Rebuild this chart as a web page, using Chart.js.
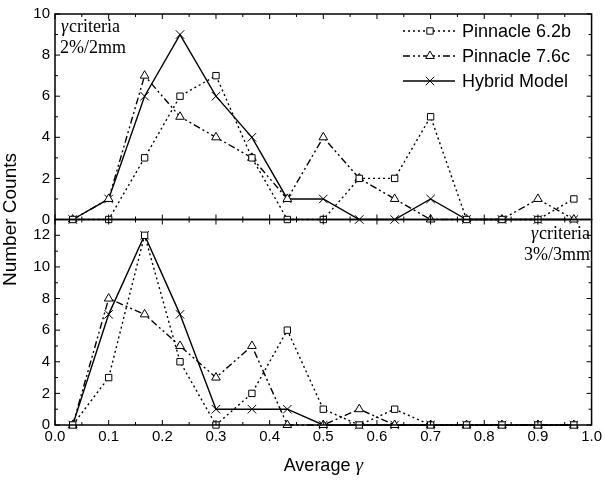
<!DOCTYPE html>
<html>
<head>
<meta charset="utf-8">
<script src="https://cdn.jsdelivr.net/npm/chart.js@4.4.1/dist/chart.umd.min.js"></script>
<style>
  html, body { margin: 0; padding: 0; background: #fff; }
  #wrap { width: 605px; height: 480px; }
</style>
</head>
<body>
<div id="wrap"><canvas id="chart" width="605" height="480"></canvas></div>
<script>
// bin centres on the x axis (average gamma)
const gammaBins = [0.033, 0.1, 0.167, 0.233, 0.3, 0.367, 0.433, 0.5, 0.567, 0.633, 0.7, 0.767, 0.833, 0.9, 0.967];

// top panel: gamma criteria 2%/2mm
const pinn62b_2mm = [0, 0, 3, 6, 7, 3, 0, 0, 2, 2, 5, 0, 0, 0, 1];
const pinn76c_2mm = [0, 1, 7, 5, 4, 3, 1, 4, 2, 1, 0, 0, 0, 1, 0];
const hybrid_2mm  = [0, 1, 6, 9, 6, 4, 1, 1, 0, 0, 1, 0, 0, 0, 0];

// bottom panel: gamma criteria 3%/3mm
const pinn62b_3mm = [0, 3, 12, 4, 0, 2, 6, 1, 0, 1, 0, 0, 0, 0, 0];
const pinn76c_3mm = [0, 8, 7, 5, 3, 5, 0, 0, 1, 0, 0, 0, 0, 0, 0];
const hybrid_3mm  = [0, 7, 12, 7, 1, 1, 1, 0, 0, 0, 0, 0, 0, 0, 0];

const seriesNames = ['Pinnacle 6.2b', 'Pinnacle 7.6c', 'Hybrid Model'];
const xTicks = [0, 0.1, 0.2, 0.3, 0.4, 0.5, 0.6, 0.7, 0.8, 0.9, 1.0];
const yTopTicks = [0, 2, 4, 6, 8, 10];
const yBotTicks = [0, 2, 4, 6, 8, 10, 12];

const SANS = '"Liberation Sans", Arial, sans-serif';
const SERIF = '"Liberation Serif", "Times New Roman", serif';

const styles = [
    { pointStyle: 'rect', radius: 4.5, dash: [2, 3] },
    { pointStyle: 'triangle', radius: 5, dash: [7, 3, 2, 3, 2, 3] },
    { pointStyle: 'crossRot', radius: 6, dash: [] }
];

function makeSet(i, values, axis) {
    const st = styles[i];
    return {
        label: seriesNames[i],
        data: gammaBins.map((x, k) => ({ x: x, y: values[k] })),
        yAxisID: axis,
        borderColor: '#000',
        borderWidth: 1.4,
        borderDash: st.dash,
        pointStyle: st.pointStyle,
        pointRadius: st.radius,
        pointBorderWidth: 1,
        pointBorderColor: '#000',
        pointBackgroundColor: '#fff',
        tension: 0,
        fill: false,
        clip: false
    };
}

const tickFont = { family: SANS, size: 15 };

function yScale(min, max, tickList) {
    return {
        type: 'linear',
        position: 'left',
        stack: 'panels',
        stackWeight: 1,
        min: min,
        max: max,
        grid: { display: false, drawTicks: false },
        border: { display: false },
        ticks: { font: tickFont, color: '#000', padding: 5, autoSkip: false },
        afterBuildTicks: s => { s.ticks = tickList.map(v => ({ value: v })); },
        afterFit: s => { s.width = 55; }
    };
}

// frame, inward tick marks, legend and the annotations
const decorations = {
    id: 'decorations',
    afterDatasetsDraw(chart) {
        const ctx = chart.ctx;
        const xs = chart.scales.x;
        const area = chart.chartArea;
        ctx.save();
        ctx.strokeStyle = '#000';
        [chart.scales.yTop, chart.scales.yBot].forEach(ys => {
            const l = area.left, r = area.right, t = ys.top, b = ys.bottom;
            ctx.lineWidth = 1.5;
            ctx.strokeRect(l, t, r - l, b - t);
            ctx.lineWidth = 1;
            ctx.beginPath();
            for (let i = 0; i <= 20; i++) {
                const px = xs.getPixelForValue(i / 20);
                const len = i % 2 === 0 ? 5 : 3;
                ctx.moveTo(px, b); ctx.lineTo(px, b - len);
                ctx.moveTo(px, t); ctx.lineTo(px, t + len);
            }
            for (let v = ys.min; v <= ys.max; v++) {
                const py = ys.getPixelForValue(v);
                const len = v % 2 === 0 ? 5 : 3;
                ctx.moveTo(l, py); ctx.lineTo(l + len, py);
                ctx.moveTo(r, py); ctx.lineTo(r - len, py);
            }
            ctx.stroke();
        });

        // legend
        const rows = [31, 56, 81];
        chart.data.datasets.slice(0, 3).forEach((ds, i) => {
            const y = rows[i];
            ctx.lineWidth = ds.borderWidth;
            ctx.setLineDash(ds.borderDash);
            ctx.beginPath();
            ctx.moveTo(403, y); ctx.lineTo(455, y);
            ctx.stroke();
            ctx.setLineDash([]);
            ctx.lineWidth = 1;
            ctx.fillStyle = '#fff';
            Chart.helpers.drawPoint(ctx, { pointStyle: ds.pointStyle, radius: ds.pointRadius, rotation: 0, borderWidth: 1 }, 430, y);
            ctx.fillStyle = '#000';
            ctx.font = '18px ' + SANS;
            ctx.textAlign = 'left';
            ctx.textBaseline = 'middle';
            ctx.fillText(ds.label, 462, y + 1);
        });

        // gamma criteria labels
        function criteria(x, y, second, alignRight) {
            ctx.fillStyle = '#000';
            ctx.textAlign = 'left';
            ctx.textBaseline = 'middle';
            ctx.font = 'italic 18px ' + SERIF;
            const w = ctx.measureText('\u03b3').width;
            ctx.font = '18px ' + SERIF;
            const wc = ctx.measureText('criteria').width;
            const w2 = ctx.measureText(second).width;
            const x1 = alignRight ? x - (w + 1 + wc) : x;
            const x2 = alignRight ? x - w2 : x - 1;
            ctx.font = 'italic 18px ' + SERIF;
            ctx.fillText('\u03b3', x1, y);
            ctx.font = '18px ' + SERIF;
            ctx.fillText('criteria', x1 + w + 1, y);
            ctx.fillText(second, x2, y + 21);
        }
        criteria(61, 27, '2%/2mm', false);
        criteria(590, 234, '3%/3mm', true);

        // axis titles
        ctx.fillStyle = '#000';
        ctx.textBaseline = 'middle';
        ctx.font = '18px ' + SANS;
        const t1 = 'Average ';
        const w1 = ctx.measureText(t1).width;
        ctx.font = 'italic 19px ' + SERIF;
        const w2 = ctx.measureText('\u03b3').width;
        const cx = (area.left + area.right) / 2;
        const x0 = cx - (w1 + w2) / 2;
        ctx.textAlign = 'left';
        ctx.font = '18px ' + SANS;
        ctx.fillText(t1, x0, 466);
        ctx.font = 'italic 19px ' + SERIF;
        ctx.fillText('\u03b3', x0 + w1, 466);

        ctx.translate(11, (area.top + area.bottom) / 2);
        ctx.rotate(-Math.PI / 2);
        ctx.textAlign = 'center';
        ctx.font = '19px ' + SANS;
        ctx.fillText('Number Counts', 0, 0);
        ctx.restore();
    }
};

new Chart(document.getElementById('chart').getContext('2d'), {
    type: 'line',
    data: {
        datasets: [
            makeSet(0, pinn62b_2mm, 'yTop'),
            makeSet(1, pinn76c_2mm, 'yTop'),
            makeSet(2, hybrid_2mm, 'yTop'),
            makeSet(0, pinn62b_3mm, 'yBot'),
            makeSet(1, pinn76c_3mm, 'yBot'),
            makeSet(2, hybrid_3mm, 'yBot')
        ]
    },
    options: {
        responsive: false,
        animation: false,
        devicePixelRatio: 1,
        layout: { padding: { left: 0, right: 13, top: 10, bottom: 0 } },
        plugins: { legend: { display: false }, tooltip: { enabled: false } },
        scales: {
            x: {
                type: 'linear',
                min: 0,
                max: 1,
                grid: { display: false, drawTicks: false },
                border: { display: false },
                ticks: {
                    font: tickFont, color: '#000', padding: 3, maxRotation: 0, autoSkip: false,
                    callback: v => v.toFixed(1)
                },
                afterBuildTicks: s => { s.ticks = xTicks.map(v => ({ value: v })); },
                afterFit: s => { s.height = 55; }
            },
            // left boxes are stacked in reverse order, so the bottom panel is listed first
            yBot: yScale(0, 13, yBotTicks),
            yTop: yScale(0, 10, yTopTicks)
        }
    },
    plugins: [decorations]
});
</script>
</body>
</html>
